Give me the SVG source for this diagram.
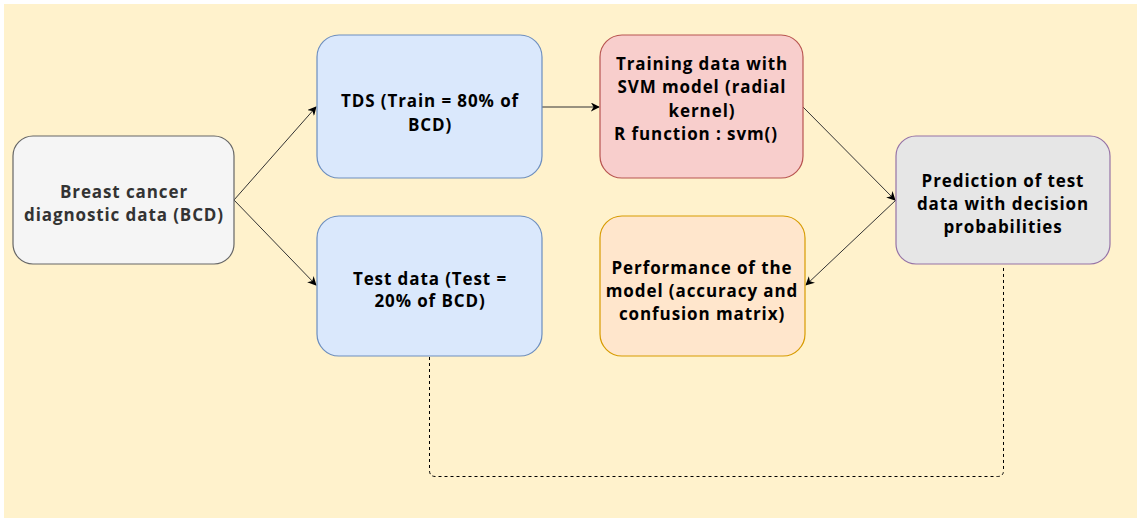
<svg xmlns="http://www.w3.org/2000/svg" width="1137" height="518" viewBox="0 0 1137 518">
<style>
.box{stroke-width:1.2}
.t{font-family:"Open Sans","DejaVu Sans",sans-serif;font-weight:bold;font-size:17px;letter-spacing:0.9px;text-anchor:middle;fill:#000}
.conn{fill:none;stroke:#333;stroke-width:1}
.dash{fill:none;stroke:#000;stroke-width:1;stroke-dasharray:3 3}
</style>
<defs>
<marker id="ah" viewBox="0 0 10 10" refX="9" refY="5" markerWidth="9" markerHeight="9" orient="auto" markerUnits="userSpaceOnUse">
<path d="M0,0 L10,5 L0,10 L3,5 Z" fill="#000"/>
</marker>
</defs>
<rect x="4" y="4" width="1133" height="514" fill="#fff2cc"/>
<g id="connectors">
<line class="conn" x1="234" y1="200" x2="316" y2="107" marker-end="url(#ah)"/>
<line class="conn" x1="234" y1="200" x2="316" y2="285" marker-end="url(#ah)"/>
<line class="conn" x1="542" y1="107" x2="599" y2="107" marker-end="url(#ah)"/>
<line class="conn" x1="803" y1="107" x2="895" y2="200" marker-end="url(#ah)"/>
<line class="conn" x1="896" y1="200" x2="806" y2="285" marker-end="url(#ah)"/>
<path class="dash" d="M429.5,357 V470.5 Q429.5,476.5 435.5,476.5 H997.5 Q1003.5,476.5 1003.5,470.5 V265"/>
</g>
<g id="bcd">
<rect class="box" x="13" y="136" width="221" height="128" rx="20" fill="#f5f5f5" stroke="#666666"/>
<text class="t" x="124" y="198" style="fill:#333333">Breast cancer</text>
<text class="t" x="124" y="221" style="fill:#333333">diagnostic data (BCD)</text>
</g>
<g id="tds">
<rect class="box" x="317" y="35" width="225" height="143" rx="22" fill="#dae8fc" stroke="#6c8ebf"/>
<text class="t" x="430" y="107">TDS (Train = 80% of</text>
<text class="t" x="430" y="131">BCD)</text>
</g>
<g id="test">
<rect class="box" x="317" y="216" width="225" height="140" rx="22" fill="#dae8fc" stroke="#6c8ebf"/>
<text class="t" x="430" y="285">Test data (Test =</text>
<text class="t" x="430" y="307">20% of BCD)</text>
</g>
<g id="training">
<rect class="box" x="600" y="35" width="203" height="143" rx="22" fill="#f8cecc" stroke="#b85450"/>
<text class="t" x="702" y="70">Training data with</text>
<text class="t" x="702" y="93">SVM model (radial</text>
<text class="t" x="702" y="117">kernel)</text>
<text class="t" x="696" y="140">R function : svm()</text>
</g>
<g id="prediction">
<rect class="box" x="896" y="136" width="214" height="128" rx="20" fill="#e6e6e6" stroke="#9673a6"/>
<text class="t" x="1003" y="187">Prediction of test</text>
<text class="t" x="1003" y="210">data with decision</text>
<text class="t" x="1003" y="233">probabilities</text>
</g>
<g id="performance">
<rect class="box" x="600" y="216" width="205" height="140" rx="22" fill="#ffe6cc" stroke="#d79b00"/>
<text class="t" x="702" y="274">Performance of the</text>
<text class="t" x="702" y="297">model (accuracy and</text>
<text class="t" x="702" y="320">confusion matrix)</text>
</g>
</svg>
